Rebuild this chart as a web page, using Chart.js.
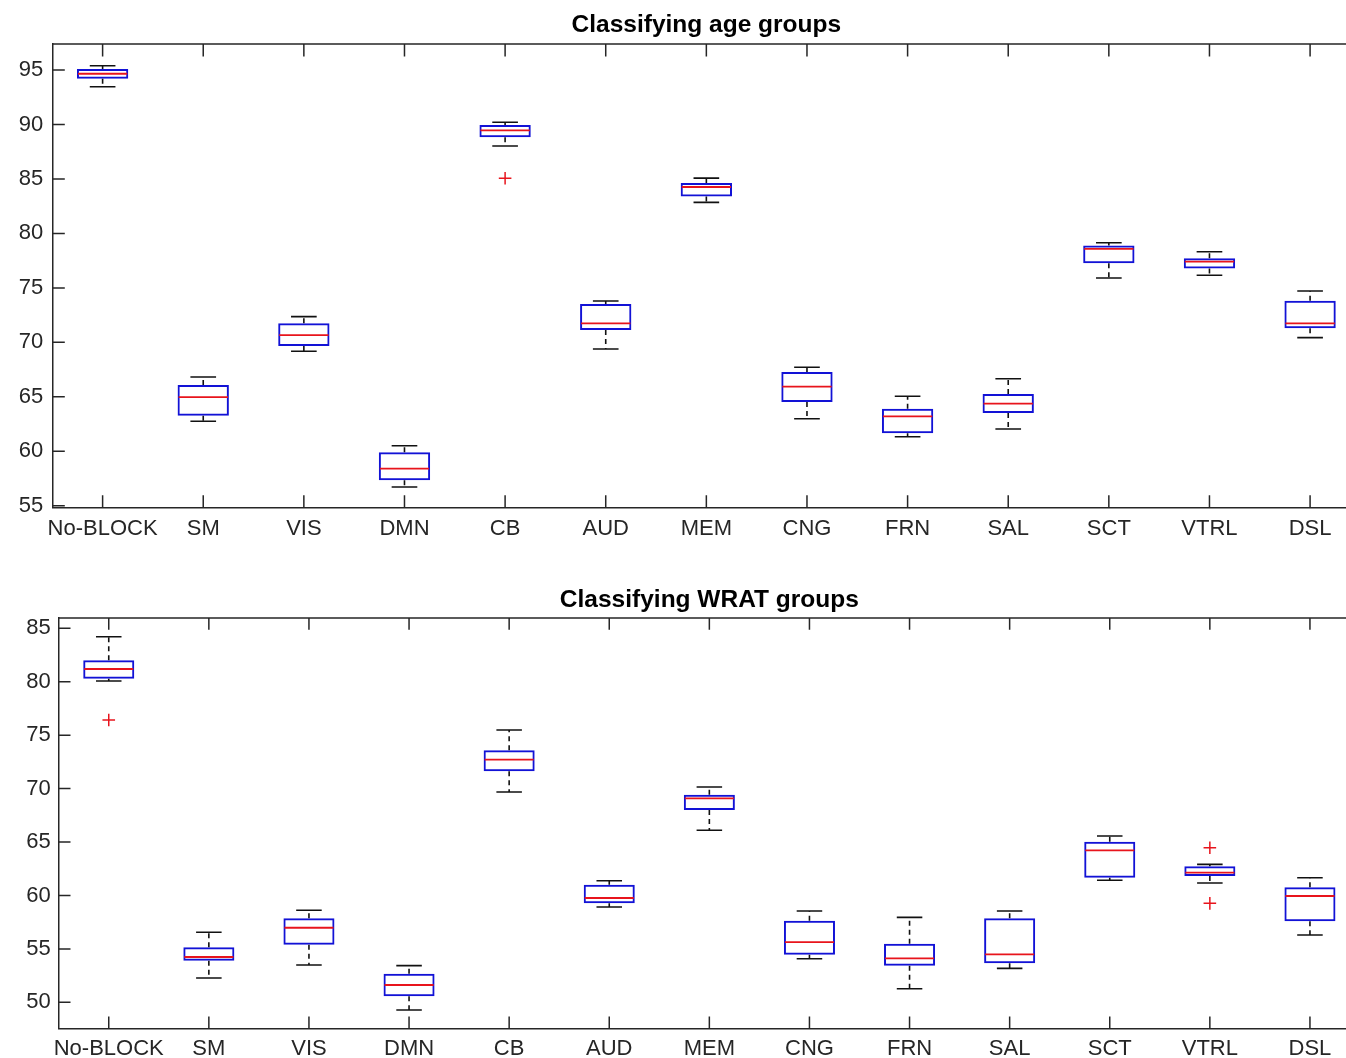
<!DOCTYPE html>
<html lang="en">
<head>
  <meta charset="UTF-8">
  <title>Classifying age / WRAT groups</title>
  <script src="https://cdn.jsdelivr.net/npm/chart.js"></script>
  <style>
    html, body { margin: 0; padding: 0; background: #fff; overflow: hidden; }
    .panel { position: absolute; left: 0; width: 1362px; }
  </style>
</head>
<body>
  <div class="panel" style="top:0; height:560px;">
    <canvas id="ageChart" width="1362" height="560"></canvas>
  </div>
  <div class="panel" style="top:560px; height:498px;">
    <canvas id="wratChart" width="1362" height="498"></canvas>
  </div>

  <script>
    // categories (network blocks)
    const categories = ['No-BLOCK', 'SM', 'VIS', 'DMN', 'CB', 'AUD', 'MEM', 'CNG', 'FRN', 'SAL', 'SCT', 'VTRL', 'DSL'];

    // Classifying age groups
    const ageLow    = [93.47, 62.75, 69.18, 56.72, 88.02, 69.39, 82.85, 62.99, 61.34, 62.04, 75.91, 76.16, 70.43];
    const ageQ1     = [94.20, 63.26, 69.66, 57.33, 88.82, 71.13, 83.40, 64.52, 61.65, 63.51, 77.26, 76.77, 71.29];
    const ageMedian = [94.66, 64.98, 70.67, 58.40, 89.46, 71.75, 84.26, 65.93, 63.20, 64.37, 78.59, 77.41, 71.75];
    const ageQ3     = [95.10, 66.08, 71.75, 59.90, 89.95, 73.52, 84.62, 67.28, 63.91, 65.26, 78.90, 77.72, 73.82];
    const ageHigh   = [95.40, 66.82, 72.36, 60.51, 90.20, 73.80, 85.08, 67.71, 65.05, 66.66, 79.14, 78.32, 74.72];
    const ageOutlierCats = ['CB'];
    const ageOutlierVals = [85.06];
    const ageTicks = [55, 60, 65, 70, 75, 80, 85, 90, 95];

    // Classifying WRAT groups
    const wratLow    = [80.07, 52.27, 53.49, 49.28, 69.68, 58.92, 66.10, 54.08, 51.27, 53.18, 61.42, 61.16, 56.30];
    const wratQ1     = [80.28, 53.89, 55.39, 50.56, 71.62, 59.26, 68.00, 54.45, 53.43, 53.65, 61.66, 61.82, 57.58];
    const wratMedian = [81.19, 54.24, 56.98, 51.62, 72.70, 59.76, 69.09, 55.64, 54.12, 54.49, 64.22, 62.13, 59.95];
    const wratQ3     = [82.00, 55.15, 57.86, 52.68, 73.58, 61.00, 69.43, 57.64, 55.48, 57.86, 65.03, 62.73, 60.76];
    const wratHigh   = [84.21, 56.55, 58.61, 53.43, 75.48, 61.38, 70.15, 58.54, 57.95, 58.54, 65.56, 62.91, 61.66];
    const wratOutlierCats = ['No-BLOCK', 'VTRL', 'VTRL'];
    const wratOutlierVals = [76.42, 64.47, 59.26];
    const wratTicks = [50, 55, 60, 65, 70, 75, 80, 85];

    const FONT = '"Liberation Sans", Arial, Helvetica, sans-serif';
    const AXIS_COLOR = '#262626';
    const BOX_COLOR = '#1212d6';
    const MED_COLOR = '#e8141c';

    // whiskers, caps and medians, drawn through the chart scales
    const whiskerPlugin = {
      id: 'whiskers',
      afterDatasetsDraw(chart, args, opts) {
        const ctx = chart.ctx;
        const x = chart.scales.x, y = chart.scales.y;
        const bars = chart.getDatasetMeta(0).data;
        ctx.save();
        for (let i = 0; i < opts.low.length; i++) {
          const cx = x.getPixelForValue(i);
          const half = bars[i].width / 2;
          const capHalf = half / 2;
          const yLow = y.getPixelForValue(opts.low[i]);
          const yQ1 = y.getPixelForValue(opts.q1[i]);
          const yQ3 = y.getPixelForValue(opts.q3[i]);
          const yHigh = y.getPixelForValue(opts.high[i]);
          const yMed = y.getPixelForValue(opts.median[i]);

          // dashed whiskers
          ctx.strokeStyle = '#111';
          ctx.lineWidth = 1.6;
          ctx.setLineDash([5, 4]);
          ctx.beginPath();
          ctx.moveTo(cx, yQ3); ctx.lineTo(cx, yHigh);
          ctx.moveTo(cx, yQ1); ctx.lineTo(cx, yLow);
          ctx.stroke();

          // caps
          ctx.setLineDash([]);
          ctx.beginPath();
          ctx.moveTo(cx - capHalf, yHigh); ctx.lineTo(cx + capHalf, yHigh);
          ctx.moveTo(cx - capHalf, yLow); ctx.lineTo(cx + capHalf, yLow);
          ctx.stroke();

          // median
          ctx.strokeStyle = MED_COLOR;
          ctx.lineWidth = 1.8;
          ctx.beginPath();
          ctx.moveTo(cx - half + 1, yMed); ctx.lineTo(cx + half - 1, yMed);
          ctx.stroke();
        }
        ctx.restore();
      }
    };

    // MATLAB style box: top/right lines and inward ticks
    const framePlugin = {
      id: 'frame',
      afterDraw(chart, args, opts) {
        const ctx = chart.ctx;
        const a = chart.chartArea;
        const x = chart.scales.x, y = chart.scales.y;
        const L = opts.tickLength;
        ctx.save();
        ctx.strokeStyle = AXIS_COLOR;
        ctx.lineWidth = 1.5;
        ctx.beginPath();
        ctx.moveTo(a.left, a.top); ctx.lineTo(a.right, a.top); ctx.lineTo(a.right, a.bottom);
        x.ticks.forEach((t, i) => {
          const px = x.getPixelForTick(i);
          ctx.moveTo(px, a.bottom); ctx.lineTo(px, a.bottom - L);
          ctx.moveTo(px, a.top); ctx.lineTo(px, a.top + L);
        });
        y.ticks.forEach(t => {
          const py = y.getPixelForValue(t.value);
          ctx.moveTo(a.left, py); ctx.lineTo(a.left + L, py);
          ctx.moveTo(a.right, py); ctx.lineTo(a.right - L, py);
        });
        ctx.stroke();
        ctx.restore();
      }
    };

    function boxChart(id, p) {
      const outliers = p.outCats.map((c, i) => ({ x: c, y: p.outVals[i] }));
      return new Chart(document.getElementById(id), {
        type: 'bar',
        data: {
          labels: categories,
          datasets: [{
            data: p.q1.map((v, i) => [v, p.q3[i]]),
            backgroundColor: 'rgba(0,0,0,0)',
            borderColor: BOX_COLOR,
            borderWidth: 2,
            borderSkipped: false,
            barPercentage: 0.51,
            categoryPercentage: 1
          }, {
            type: 'scatter',
            data: outliers,
            pointStyle: 'cross',
            pointRadius: 6.3,
            borderColor: MED_COLOR,
            backgroundColor: MED_COLOR,
            borderWidth: 1.5
          }]
        },
        plugins: [whiskerPlugin, framePlugin],
        options: {
          responsive: false,
          animation: false,
          layout: { autoPadding: false, padding: { left: 0, right: p.padRight, top: 0, bottom: 0 } },
          scales: {
            x: {
              type: 'category',
              offset: true,
              grid: { display: false, drawTicks: false },
              border: { display: true, color: AXIS_COLOR, width: 1.5 },
              ticks: { color: AXIS_COLOR, font: { family: FONT, size: 22 }, padding: p.xPad, maxRotation: 0, autoSkip: false },
              afterFit: s => { s.height = p.xHeight; s.paddingLeft = 0; s.paddingRight = 0; }
            },
            y: {
              min: p.min,
              max: p.max,
              grid: { display: false, drawTicks: false },
              border: { display: true, color: AXIS_COLOR, width: 1.5 },
              ticks: { color: AXIS_COLOR, font: { family: FONT, size: 22 }, padding: p.yPad },
              afterBuildTicks: s => { s.ticks = p.ticks.map(v => ({ value: v })); },
              afterFit: s => { s.width = p.yWidth; s.paddingTop = 0; s.paddingBottom = 0; }
            }
          },
          plugins: {
            legend: { display: false },
            tooltip: { enabled: false },
            title: {
              display: true,
              text: p.title,
              fullSize: false,
              color: '#000',
              font: { family: FONT, size: 24.5, weight: 'bold', lineHeight: 1.2 },
              padding: { top: p.titleTop, bottom: p.titleBottom }
            },
            whiskers: { low: p.low, q1: p.q1, median: p.median, q3: p.q3, high: p.high },
            frame: { tickLength: p.tickLength }
          }
        }
      });
    }

    boxChart('ageChart', {
      title: 'Classifying age groups',
      low: ageLow, q1: ageQ1, median: ageMedian, q3: ageQ3, high: ageHigh,
      outCats: ageOutlierCats, outVals: ageOutlierVals,
      ticks: ageTicks, min: 54.82, max: 97.39,
      yWidth: 52.3, xHeight: 52.3, padRight: 1.6,
      titleTop: 10.3, titleBottom: 4.3,
      xPad: 8.5, yPad: 9, tickLength: 12.5
    });

    boxChart('wratChart', {
      title: 'Classifying WRAT groups',
      low: wratLow, q1: wratQ1, median: wratMedian, q3: wratQ3, high: wratHigh,
      outCats: wratOutlierCats, outVals: wratOutlierVals,
      ticks: wratTicks, min: 47.57, max: 85.96,
      yWidth: 58.7, xHeight: 29.7, padRight: 2,
      titleTop: 25.6, titleBottom: 3.0,
      xPad: 7.1, yPad: 8, tickLength: 11.8
    });
  </script>
</body>
</html>
